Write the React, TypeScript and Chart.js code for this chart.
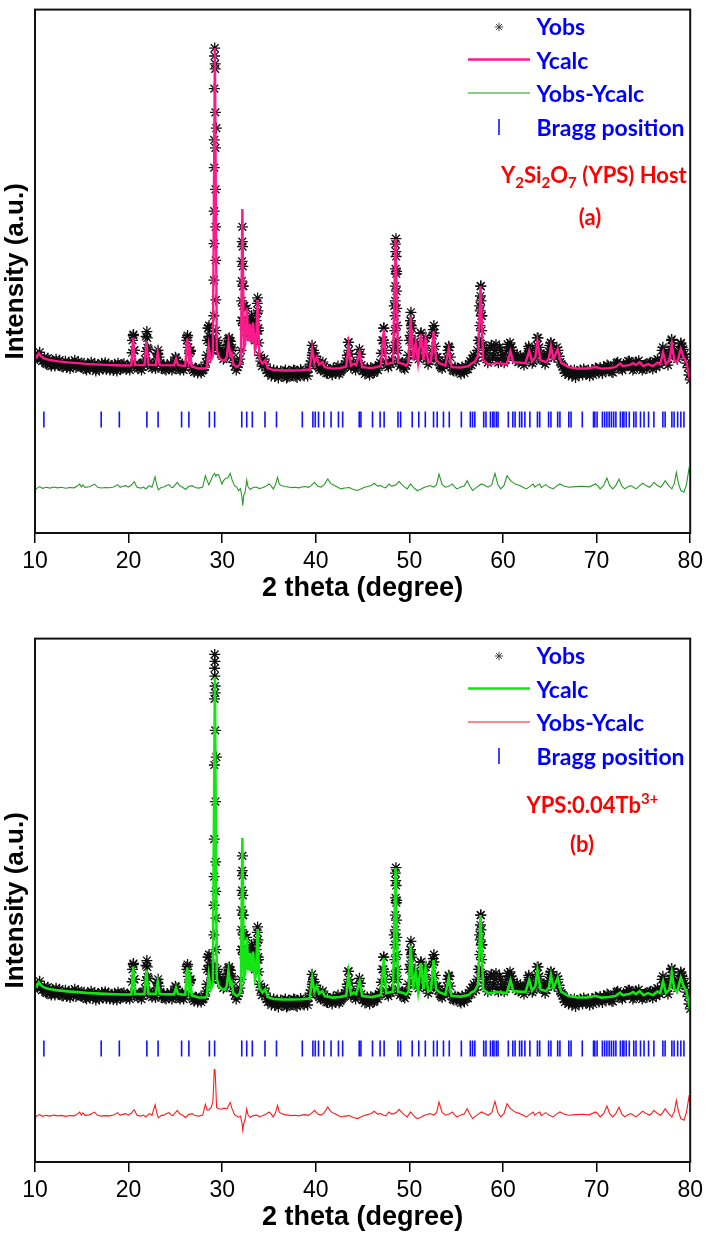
import React, { useEffect, useRef } from 'react';
import { Chart, registerables } from 'chart.js';

Chart.register(...registerables);

// ---------------- data (2θ in degrees, intensity in a.u.) ----------------
const X_TICKS = [10, 20, 30, 40, 50, 60, 70, 80];
const Y_RANGE = [0, 10600];
const BRAGG_LEVEL = 2300;

// observed pattern sampled every 0.25° from 10° to 80°
const OBS_START = 10;
const OBS_STEP = 0.25;
const obsBackground = [
  // 10.00 - 14.75
  3620, 3540, 3660, 3480, 3560, 3420, 3500, 3380, 3470, 3520, 3400, 3440, 3360, 3480, 3410, 3330, 3450, 3500, 3380, 3420,
  // 15.00 - 19.75
  3360, 3440, 3300, 3400, 3460, 3340, 3280, 3410, 3370, 3320, 3450, 3380, 3300, 3350, 3420, 3280, 3390, 3340, 3430, 3310,
  // 20.00 - 24.75
  3350, 3420, 4000, 3430, 3330, 3400, 3360, 3520, 3950, 3460, 3340, 3390, 3520, 3560, 3330, 3400, 3300, 3380, 3420, 3340,
  // 25.00 - 29.75
  3560, 3380, 3300, 3420, 3360, 3960, 3640, 3350, 3260, 3330, 3280, 3240, 3310, 3460, 4150, 3800, 3950, 9500, 3900, 3700,
  // 30.00 - 34.75
  3650, 3550, 3750, 3950, 3700, 3450, 3300, 3420, 3700, 5000, 4200, 4300, 4300, 4200, 3900, 4650, 3600, 3380, 3520, 3300,
  // 35.00 - 39.75
  3260, 3180, 3300, 3220, 3140, 3280, 3200, 3300, 3160, 3240, 3190, 3290, 3150, 3230, 3270, 3180, 3250, 3330, 3480, 3700,
  // 40.00 - 44.75
  3580, 3380, 3300, 3460, 3280, 3230, 3310, 3200, 3290, 3340, 3220, 3300, 3360, 3480, 3860, 3350, 3440, 3300, 3450, 3620,
  // 45.00 - 49.75
  3280, 3220, 3340, 3200, 3300, 3250, 3330, 3400, 3640, 4150, 3460, 3360, 3420, 3700, 5850, 3700, 3380, 3440, 3320, 3450,
  // 50.00 - 54.75
  3900, 4150, 3600, 3800, 3520, 4050, 3560, 3950, 3420, 3520, 4000, 3780, 3560, 3400, 3330, 3420, 3560, 3760, 3360, 3280,
  // 55.00 - 59.75
  3280, 3330, 3220, 3300, 3380, 3320, 3480, 3520, 3560, 3700, 4600, 4400, 3560, 3700, 3500, 3800, 3600, 3820, 3450, 3700,
  // 60.00 - 64.75
  3600, 3500, 3820, 3850, 3700, 3560, 3620, 3480, 3520, 3400, 3580, 3780, 3560, 3480, 3700, 3950, 3640, 3500, 3420, 3600,
  // 65.00 - 69.75
  3800, 3720, 3560, 3760, 3580, 3420, 3300, 3260, 3200, 3280, 3220, 3150, 3240, 3300, 3200, 3280, 3230, 3180, 3300, 3260,
  // 70.00 - 74.75
  3330, 3240, 3300, 3360, 3280, 3380, 3320, 3250, 3390, 3460, 3380, 3300, 3360, 3420, 3480, 3380, 3330, 3460, 3490, 3350,
  // 75.00 - 79.75
  3340, 3420, 3380, 3460, 3320, 3480, 3520, 3400, 3700, 3650, 3460, 3620, 3900, 3700, 3580, 3640, 3850, 3720, 3560, 3350,
  // 80.00
  3100,
];

// observed points read between the 0.25° samples (offset by 0.125°)
const OBS_MID_START = 10.125;
const obsBetween = [
  // 10.125 - 14.875
  3560, 3600, 3520, 3500, 3440, 3540, 3410, 3460, 3380, 3430, 3500, 3370, 3420, 3350, 3460, 3390, 3400, 3350, 3470, 3360,
  // 15.125 - 19.875
  3420, 3330, 3380, 3320, 3400, 3430, 3350, 3300, 3440, 3390, 3310, 3420, 3360, 3290, 3380, 3440, 3320, 3400, 3360, 3380,
  // 20.125 - 24.875
  3300, 3650, 3700, 3360, 3410, 3300, 3440, 3680, 3720, 3380, 3420, 3330, 3620, 3440, 3380, 3320, 3410, 3350, 3300, 3450,
  // 25.125 - 29.875
  3480, 3330, 3400, 3300, 3420, 3760, 3700, 3300, 3340, 3240, 3320, 3290, 3360, 3600, 3980, 3700, 3750, 8200, 3700, 3620,
  // 30.125 - 34.875
  3520, 3640, 3820, 3880, 3540, 3380, 3360, 3520, 4300, 4600, 4100, 4150, 4400, 3950, 4300, 4100, 3480, 3450, 3420, 3240,
  // 35.125 - 39.875
  3300, 3240, 3170, 3280, 3220, 3180, 3260, 3140, 3280, 3200, 3300, 3170, 3240, 3310, 3200, 3260, 3180, 3420, 3600, 3500,
  // 40.125 - 44.875
  3480, 3340, 3420, 3360, 3240, 3310, 3260, 3340, 3230, 3380, 3260, 3330, 3420, 3600, 3620, 3400, 3360, 3420, 3560, 3400,
  // 45.125 - 49.875
  3320, 3260, 3280, 3350, 3240, 3360, 3300, 3450, 3900, 3700, 3400, 3460, 3500, 4600, 5300, 3480, 3420, 3350, 3400, 3600,
  // 50.125 - 54.875
  4300, 3800, 3700, 3600, 3800, 3700, 3800, 3600, 3480, 3700, 4050, 3560, 3480, 3360, 3400, 3460, 3700, 3560, 3300, 3360,
  // 55.125 - 59.875
  3340, 3260, 3360, 3240, 3320, 3420, 3400, 3600, 3480, 3900, 5000, 3800, 3640, 3450, 3760, 3560, 3700, 3500, 3760, 3560,
  // 60.125 - 64.875
  3450, 3700, 3600, 3760, 3600, 3500, 3460, 3580, 3460, 3560, 3620, 3700, 3440, 3620, 3800, 3760, 3520, 3600, 3480, 3680,
  // 65.125 - 69.875
  3850, 3620, 3650, 3700, 3460, 3380, 3240, 3320, 3250, 3180, 3300, 3240, 3200, 3280, 3320, 3220, 3300, 3250, 3200, 3340,
  // 70.125 - 74.875
  3280, 3350, 3230, 3320, 3400, 3300, 3260, 3360, 3440, 3400, 3330, 3420, 3380, 3480, 3400, 3300, 3440, 3400, 3380, 3300,
  // 75.125 - 79.875
  3400, 3330, 3440, 3380, 3400, 3360, 3440, 3500, 3560, 3550, 3400, 3720, 3780, 3600, 3520, 3700, 3760, 3620, 3440, 3200,
];

// extra observed points on the flanks and tops of the reflections
const obsPeakPoints: [number, number][] = [
  [20.42, 3900], [20.52, 4020], [20.6, 3700],
  [21.86, 3980], [21.95, 4080], [22.02, 3750],
  [23.08, 3640], [23.15, 3700], [25.05, 3540],
  [26.22, 3900], [26.3, 4000], [26.6, 3680],
  [28.4, 3900], [28.5, 4150], [28.6, 4200], [28.68, 3980], [28.85, 3850],
  [29.6, 3800], [29.85, 3650], [30.1, 3600], [30.55, 3800], [30.65, 3930], [30.75, 3900], [30.9, 3700], [31.05, 3750],
  [32.06, 4300], [32.08, 4700], [32.1, 5100], [32.12, 5500], [32.14, 5900], [32.16, 6200], [32.18, 5800],
  [32.2, 5400], [32.22, 5000], [32.25, 4600], [32.28, 4200],
  [32.58, 4200], [32.62, 4550], [32.66, 4300], [32.7, 4000],
  [32.93, 4050], [32.98, 4250], [33.02, 4000],
  [33.26, 4100], [33.3, 4300], [33.35, 4000],
  [33.7, 4100], [33.74, 4450], [33.78, 4760], [33.82, 4500], [33.86, 4150], [33.9, 3850],
  [39.6, 3800], [39.68, 3650], [43.47, 3860], [43.55, 3700], [44.66, 3720],
  [47.22, 3900], [47.27, 4150], [47.32, 3850],
  [48.42, 3800], [48.44, 4100], [48.46, 4400], [48.48, 4700], [48.5, 5000], [48.52, 5350], [48.54, 5700],
  [48.56, 5960], [48.58, 5600], [48.6, 5250], [48.62, 4900], [48.64, 4550], [48.66, 4200], [48.7, 3900],
  [50.08, 4000], [50.12, 4300], [50.16, 4470], [50.2, 4200], [50.24, 3900],
  [50.65, 3880], [51.22, 4050], [51.7, 3950], [52.55, 4120], [52.62, 4200], [54.18, 3780],
  [57.5, 3900], [57.53, 4200], [57.56, 4500], [57.59, 4800], [57.62, 5000], [57.65, 4700], [57.68, 4400],
  [57.71, 4100], [57.75, 3800],
  [60.78, 3760], [62.78, 3740], [63.66, 3950], [65.1, 3850], [77.08, 3760], [78.02, 3920], [79.0, 3830],
];

// observed points along the strongest reflection (~29.2°)
const obsMainPeakA: [number, number][] = [
  [29.2, 9820], [29.18, 9660], [29.25, 9400], [29.16, 9000], [29.27, 8520], [29.15, 7960], [29.28, 7800],
  [29.15, 7400], [29.29, 6960], [29.14, 6520], [29.3, 6200], [29.13, 5860], [29.31, 5520], [29.12, 5120],
  [29.32, 4720], [29.11, 4400], [29.33, 4100], [29.1, 3800],
];
const obsMainPeakB: [number, number][] = [
  [29.2, 10280], [29.22, 10140], [29.19, 10000], [29.21, 9840], [29.24, 9640], [29.18, 9380], [29.26, 8740],
  [29.16, 8040], [29.28, 7300], [29.15, 6540], [29.3, 6080], [29.14, 5780], [29.31, 5480], [29.13, 5200],
  [29.32, 4940], [29.12, 4600], [29.33, 4300], [29.1, 4000],
];

// calculated profile
const calcProfile: [number, number][] = [
  [10.0, 3610], [10.2, 3560], [10.4, 3640], [10.6, 3590], [10.9, 3540], [11.5, 3505], [12.5, 3475], [13.5, 3455],
  [14.5, 3440], [15.5, 3425], [16.5, 3415], [17.5, 3405], [18.5, 3398], [19.5, 3392], [20.3, 3395],
  [20.48, 3960], [20.68, 3405], [21.7, 3400], [21.91, 3890], [22.12, 3410], [22.9, 3400], [23.11, 3660],
  [23.32, 3400], [24.85, 3395], [25.07, 3530], [25.28, 3400], [26.05, 3385],
  [26.27, 3940], [26.42, 3520], [26.55, 3700], [26.75, 3370], [27.5, 3330], [28.2, 3330], [28.36, 3360],
  [28.56, 3790], [28.78, 3500], [29.0, 3580],
  [29.22, 9820], [29.42, 3720], [29.6, 3580], [29.9, 3510], [30.25, 3490], [30.48, 3560], [30.67, 3870],
  [30.86, 3600], [31.0, 3640], [31.2, 3420], [31.55, 3360], [31.85, 3400], [32.0, 3520],
  [32.15, 6560], [32.32, 3720], [32.45, 3820], [32.63, 4560], [32.8, 3880], [32.97, 4230], [33.13, 3850],
  [33.3, 4260], [33.5, 3700], [33.6, 3760], [33.78, 4720], [33.98, 3520], [34.3, 3430], [34.6, 3500],
  [34.85, 3340], [35.5, 3300], [36.5, 3290], [37.5, 3290], [38.5, 3295], [39.35, 3310],
  [39.62, 3730], [39.85, 3450], [40.1, 3560], [40.35, 3410], [40.7, 3460], [40.95, 3360], [41.8, 3330],
  [42.6, 3340], [43.25, 3370], [43.5, 3810], [43.75, 3390], [44.07, 3430], [44.3, 3400], [44.69, 3660],
  [44.95, 3360], [46.0, 3340], [46.95, 3380],
  [47.27, 4130], [47.52, 3420], [48.25, 3450], [48.52, 5960], [48.8, 3450], [49.33, 3425], [49.65, 3390],
  [49.92, 3460], [50.14, 4390], [50.4, 3500], [50.67, 3860], [50.92, 3460], [51.24, 4030], [51.5, 3500],
  [51.72, 3930], [52.0, 3450], [52.3, 3480], [52.58, 4090], [52.85, 3500], [53.2, 3440], [53.85, 3390],
  [54.2, 3730], [54.5, 3360], [55.5, 3350], [56.3, 3380], [56.6, 3430], [57.0, 3470], [57.35, 3600],
  [57.6, 5000], [57.88, 3500], [58.4, 3420], [58.9, 3425], [59.2, 3445], [59.9, 3430], [60.4, 3420],
  [60.8, 3680], [61.1, 3460], [61.77, 3450], [62.4, 3440], [62.8, 3690], [63.1, 3470], [63.45, 3560],
  [63.68, 3890], [64.0, 3500], [64.6, 3460], [64.9, 3540], [65.12, 3790], [65.4, 3520], [65.84, 3730],
  [66.2, 3450], [67.0, 3360], [68.0, 3330], [69.0, 3330], [69.9, 3360], [70.5, 3330], [71.3, 3340],
  [72.0, 3360], [72.5, 3430], [72.8, 3380], [73.5, 3400], [73.9, 3440], [74.2, 3400], [74.6, 3460],
  [75.0, 3380], [75.5, 3420], [76.0, 3380], [76.5, 3450], [76.8, 3420], [77.1, 3660], [77.4, 3420],
  [77.8, 3500], [78.04, 3830], [78.3, 3500], [78.6, 3450], [79.0, 3730], [79.3, 3560], [79.6, 3460],
  [80.0, 3060],
];

// difference curves (offset below the patterns)
const diffA: [number, number][] = [
  [10.0, 850], [10.15, 900], [10.5, 940], [10.8, 905], [11.2, 925], [11.6, 910], [12.0, 930], [12.4, 915],
  [12.8, 925], [13.3, 905], [13.7, 920], [14.2, 915], [14.5, 950], [14.77, 990], [14.95, 930], [15.12, 975],
  [15.35, 925], [15.8, 935], [16.36, 990], [16.7, 925], [17.07, 910], [17.5, 920], [17.95, 915], [18.4, 930],
  [18.84, 980], [19.1, 925], [19.37, 945], [19.72, 960], [19.95, 930], [20.25, 960], [20.6, 1040], [20.9, 925],
  [21.31, 910], [21.6, 930], [21.84, 893], [22.2, 960], [22.5, 930], [22.83, 1140], [23.0, 980], [23.18, 873],
  [23.5, 925], [23.79, 930], [24.0, 955], [24.32, 980], [24.55, 930], [24.74, 920], [25.2, 1027], [25.5, 950],
  [25.73, 930], [26.09, 880], [26.4, 940], [26.79, 960], [27.1, 920], [27.5, 910], [27.92, 930], [28.2, 1160],
  [28.35, 1080], [28.56, 980], [28.75, 1050], [28.91, 1120], [29.05, 1180], [29.19, 1207], [29.32, 1150],
  [29.44, 1185], [29.62, 1180], [29.8, 1080], [29.97, 990], [30.15, 1060], [30.33, 1100], [30.6, 1120],
  [30.86, 1207], [31.05, 1080], [31.32, 960], [31.55, 930], [31.74, 860], [31.95, 900], [32.1, 740],
  [32.2, 560], [32.3, 760], [32.45, 827], [32.62, 1073], [32.75, 940], [32.98, 880], [33.3, 920], [33.68, 930],
  [33.95, 900], [34.21, 913], [34.6, 940], [35.0, 993], [35.2, 960], [35.45, 893], [35.7, 980], [35.91, 1127],
  [36.1, 990], [36.33, 960], [36.7, 940], [37.04, 930], [37.4, 920], [37.75, 927], [38.2, 915], [38.5, 930],
  [38.81, 940], [39.2, 925], [39.5, 960], [39.87, 1027], [40.2, 950], [40.57, 930], [40.9, 980], [41.28, 1093],
  [41.6, 1000], [41.99, 960], [42.3, 930], [42.69, 893], [43.1, 910], [43.58, 920], [44.0, 880], [44.46, 860],
  [44.81, 893], [45.15, 920], [45.52, 940], [45.9, 960], [46.24, 1007], [46.6, 950], [46.94, 960], [47.2, 930],
  [47.47, 913], [47.82, 993], [48.1, 950], [48.36, 960], [48.6, 980], [48.89, 1047], [49.2, 980], [49.5, 930],
  [49.77, 893], [50.12, 993], [50.45, 920], [50.83, 860], [51.2, 880], [51.54, 920], [51.9, 940], [52.2, 960],
  [52.6, 930], [52.9, 980], [53.16, 1193], [53.5, 980], [53.88, 927], [54.25, 950], [54.59, 993], [54.8, 940],
  [55.07, 893], [55.5, 930], [55.85, 950], [56.17, 1060], [56.45, 950], [56.75, 860], [57.2, 930], [57.7, 993],
  [58.05, 960], [58.42, 927], [58.8, 980], [59.14, 1207], [59.45, 980], [59.76, 893], [60.1, 960], [60.43, 1160],
  [60.81, 1060], [61.3, 990], [61.77, 960], [62.1, 930], [62.49, 893], [62.85, 940], [63.21, 993], [63.4, 930],
  [63.59, 960], [63.92, 993], [64.1, 920], [64.26, 940], [64.55, 980], [64.9, 930], [65.36, 893], [65.7, 950],
  [66.08, 993], [66.5, 950], [67.03, 927], [67.7, 940], [68.47, 947], [69.2, 935], [69.9, 993], [70.15, 950],
  [70.38, 893], [70.75, 960], [71.1, 1113], [71.4, 960], [71.72, 893], [72.05, 960], [72.39, 1093], [72.7, 950],
  [73.01, 893], [73.3, 930], [73.64, 960], [73.9, 930], [74.21, 893], [74.55, 950], [74.93, 1007], [75.3, 960],
  [75.65, 927], [75.9, 970], [76.12, 1027], [76.5, 960], [76.84, 927], [77.1, 990], [77.32, 1060], [77.7, 960],
  [78.04, 893], [78.3, 1000], [78.52, 1227], [78.75, 1000], [79.0, 860], [79.33, 827], [79.6, 980],
  [79.86, 1293], [80.0, 1200],
];

const diffB: [number, number][] = [
  [10.0, 870], [10.15, 930], [10.5, 960], [10.8, 925], [11.2, 945], [11.6, 930], [12.0, 950], [12.4, 935],
  [12.8, 945], [13.3, 925], [13.7, 940], [14.2, 935], [14.5, 970], [14.77, 1010], [14.95, 950], [15.12, 995],
  [15.35, 945], [15.8, 955], [16.36, 1010], [16.7, 945], [17.07, 930], [17.5, 940], [17.95, 935], [18.4, 950],
  [18.84, 1000], [19.1, 945], [19.37, 965], [19.72, 980], [19.95, 950], [20.25, 980], [20.6, 1060], [20.9, 945],
  [21.31, 930], [21.6, 950], [21.84, 913], [22.2, 980], [22.5, 950], [22.83, 1160], [23.0, 1000], [23.18, 893],
  [23.5, 945], [23.79, 950], [24.0, 975], [24.32, 1000], [24.55, 950], [24.74, 940], [25.2, 1047], [25.5, 970],
  [25.73, 950], [26.09, 900], [26.4, 960], [26.79, 980], [27.1, 940], [27.5, 930], [27.92, 950], [28.2, 1170],
  [28.4, 1050], [28.56, 1053], [28.8, 1100], [29.0, 1200], [29.1, 1600], [29.15, 1873], [29.22, 1880],
  [29.28, 1700], [29.4, 1107], [29.6, 1080], [29.9, 1070], [30.2, 1090], [30.5, 1075], [30.86, 1207],
  [31.05, 1080], [31.32, 960], [31.74, 907], [31.95, 930], [32.1, 800], [32.2, 640], [32.3, 780], [32.45, 860],
  [32.62, 1073], [32.75, 960], [32.98, 900], [33.3, 940], [33.68, 950], [33.95, 920], [34.21, 933], [34.6, 960],
  [35.0, 1013], [35.2, 980], [35.45, 913], [35.7, 1000], [35.91, 1147], [36.1, 1010], [36.33, 980], [36.7, 960],
  [37.04, 950], [37.4, 940], [37.75, 947], [38.2, 935], [38.5, 950], [38.81, 960], [39.2, 945], [39.5, 980],
  [39.87, 1047], [40.2, 970], [40.57, 950], [40.9, 1000], [41.28, 1113], [41.6, 1020], [41.99, 980], [42.3, 950],
  [42.69, 913], [43.1, 930], [43.58, 940], [44.0, 900], [44.46, 880], [44.81, 913], [45.15, 940], [45.52, 960],
  [45.9, 980], [46.24, 1027], [46.6, 970], [46.94, 980], [47.2, 950], [47.47, 933], [47.82, 1013], [48.1, 970],
  [48.36, 980], [48.6, 1000], [48.89, 1067], [49.2, 1000], [49.5, 950], [49.77, 913], [50.12, 1013], [50.45, 940],
  [50.83, 880], [51.2, 900], [51.54, 940], [51.9, 960], [52.2, 980], [52.6, 950], [52.9, 1000], [53.16, 1213],
  [53.5, 1000], [53.88, 947], [54.25, 970], [54.59, 1013], [54.8, 960], [55.07, 913], [55.5, 950], [55.85, 970],
  [56.17, 1080], [56.45, 970], [56.75, 880], [57.2, 950], [57.7, 1013], [58.05, 980], [58.42, 947], [58.8, 1000],
  [59.14, 1227], [59.45, 1000], [59.76, 913], [60.1, 980], [60.43, 1180], [60.81, 1080], [61.3, 1010],
  [61.77, 980], [62.1, 950], [62.49, 913], [62.85, 960], [63.21, 1013], [63.4, 950], [63.59, 980], [63.92, 1013],
  [64.1, 940], [64.26, 960], [64.55, 1000], [64.9, 950], [65.36, 913], [65.7, 970], [66.08, 1013], [66.5, 970],
  [67.03, 947], [67.7, 960], [68.47, 967], [69.2, 955], [69.9, 1013], [70.15, 970], [70.38, 913], [70.75, 980],
  [71.1, 1133], [71.4, 980], [71.72, 913], [72.05, 980], [72.39, 1113], [72.7, 970], [73.01, 913], [73.3, 950],
  [73.64, 980], [73.9, 950], [74.21, 913], [74.55, 970], [74.93, 1027], [75.3, 980], [75.65, 947], [75.9, 990],
  [76.12, 1047], [76.5, 980], [76.84, 947], [77.1, 1010], [77.32, 1080], [77.7, 980], [78.04, 913], [78.3, 1020],
  [78.52, 1247], [78.75, 1020], [79.0, 880], [79.33, 847], [79.6, 1000], [79.86, 1313], [80.0, 1220],
];

// Bragg reflection positions (2θ)
const braggPositions = [
  10.95, 17.07, 19.01, 21.95, 23.15, 25.66, 26.44, 28.63, 29.19, 32.09, 32.62, 33.22, 34.57, 35.8, 38.56,
  39.69, 39.94, 40.29, 40.86, 41.63, 42.42, 42.87, 44.64, 44.82, 46.06, 46.87, 47.3, 48.78, 49.06, 50.3,
  51.0, 51.7, 52.58, 52.97, 53.64, 54.26, 55.55, 56.51, 56.75, 56.99, 57.94, 58.18, 58.66, 58.9, 59.04,
  59.28, 59.47, 60.57, 61.05, 61.29, 61.77, 62.01, 62.34, 62.87, 63.68, 63.92, 64.87, 65.12, 65.84, 66.08,
  67.03, 67.27, 68.47, 69.67, 69.81, 70.05, 70.62, 70.86, 71.1, 71.34, 71.58, 71.82, 72.06, 72.54, 72.78,
  72.92, 73.16, 73.49, 73.97, 74.21, 74.69, 75.07, 75.55, 76.12, 77.08, 77.32, 78.04, 78.28, 78.66, 79.0,
  79.33,
];

const legendLabels = ['Yobs', 'Ycalc', 'Yobs-Ycalc', 'Bragg position'];

// ---------------- styling ----------------
const W = 708;
const H = 605;
const TICK_FONT = "'Liberation Sans Narrow', 'Liberation Sans', Arial, sans-serif";
const TITLE_FONT = "'Liberation Sans', Arial, sans-serif";
const LEGEND_FONT = "Lato, 'Open Sans', sans-serif";

type PanelSpec = {
  calcColor: string;
  calcWidth: number;
  diffColor: string;
  diff: [number, number][];
  mainPeak: [number, number][];
};

const framePlugin = {
  id: 'frame',
  afterDraw(chart: any) {
    const { ctx, chartArea: a } = chart;
    ctx.save();
    ctx.strokeStyle = '#111';
    ctx.lineWidth = 2;
    ctx.strokeRect(a.left, a.top, a.right - a.left, a.bottom - a.top);
    ctx.restore();
  },
};

function toXY(arr: [number, number][]) {
  return arr.map(([x, y]) => ({ x, y }));
}

function buildConfig(p: PanelSpec): any {
  const obs = [
    ...obsBackground.map((v, i) => ({ x: OBS_START + i * OBS_STEP, y: v })),
    ...obsBetween.map((v, i) => ({ x: OBS_MID_START + i * OBS_STEP, y: v })),
    ...toXY(obsPeakPoints),
    ...toXY(p.mainPeak),
  ];
  return {
    type: 'line',
    data: {
      datasets: [
        {
          label: 'Ycalc',
          data: toXY(calcProfile),
          borderColor: p.calcColor,
          borderWidth: p.calcWidth,
          pointRadius: 0,
          tension: 0,
          fill: false,
        },
        {
          label: 'Yobs-Ycalc',
          data: toXY(p.diff),
          borderColor: p.diffColor,
          borderWidth: 1.1,
          pointRadius: 0,
          tension: 0,
          fill: false,
        },
        {
          label: 'Bragg position',
          data: braggPositions.map((x) => ({ x, y: BRAGG_LEVEL })),
          showLine: false,
          pointStyle: 'line',
          pointRotation: 90,
          pointRadius: 8,
          pointBorderWidth: 1.6,
          pointBorderColor: '#1212ff',
          borderColor: '#1212ff',
        },
        {
          label: 'Yobs',
          data: obs,
          showLine: false,
          pointStyle: 'star',
          pointRadius: 5.5,
          pointBorderWidth: 1.3,
          pointBorderColor: '#0d0d0d',
          pointBackgroundColor: 'rgba(0,0,0,0)',
          borderColor: '#0d0d0d',
        },
      ],
    },
    options: {
      animation: false,
      responsive: false,
      events: [],
      layout: { padding: { top: 3, right: 13, bottom: 0, left: 0 } },
      plugins: { legend: { display: false }, tooltip: { enabled: false } },
      scales: {
        x: {
          type: 'linear',
          min: X_TICKS[0],
          max: X_TICKS[X_TICKS.length - 1],
          afterBuildTicks: (s: any) => {
            s.ticks = X_TICKS.map((v) => ({ value: v }));
          },
          afterFit: (s: any) => {
            s.height = 72;
          },
          ticks: {
            color: '#000',
            font: { family: TICK_FONT, size: 23 },
            padding: 5,
            maxRotation: 0,
            autoSkip: false,
          },
          grid: {
            display: true,
            drawOnChartArea: false,
            drawTicks: true,
            tickLength: 10,
            color: '#000',
            lineWidth: 1.5,
          },
          border: { display: true, color: '#000', width: 2 },
          title: {
            display: true,
            text: '2 theta (degree)',
            color: '#000',
            font: { family: TITLE_FONT, size: 27, weight: 'bold' },
            padding: { top: 0, bottom: 0 },
          },
        },
        y: {
          type: 'linear',
          min: Y_RANGE[0],
          max: Y_RANGE[1],
          afterFit: (s: any) => {
            s.width = 35;
          },
          ticks: { display: false },
          grid: { display: false },
          border: { display: false },
          title: {
            display: true,
            text: 'Intensity (a.u.)',
            color: '#000',
            font: { family: TITLE_FONT, size: 26, weight: 'bold' },
            padding: { top: 0, bottom: 0 },
          },
        },
      },
    },
    plugins: [framePlugin],
  };
}

function Legend({ calcColor, diffColor }: { calcColor: string; diffColor: string }) {
  const textX = 536.5;
  const base = [35, 68.5, 102, 135.5];
  return (
    <g>
      <g stroke="#333" strokeWidth={0.9}>
        <line x1={494.8} y1={27} x2={503.2} y2={27} />
        <line x1={499} y1={22.8} x2={499} y2={31.2} />
        <line x1={496} y1={24} x2={502} y2={30} />
        <line x1={502} y1={24} x2={496} y2={30} />
      </g>
      <line x1={468} y1={59.5} x2={530} y2={59.5} stroke={calcColor} strokeWidth={2.5} />
      <line x1={468} y1={93} x2={530} y2={93} stroke={diffColor} strokeWidth={1.5} opacity={0.7} />
      <line x1={499} y1={119} x2={499} y2={135} stroke="#1212ff" strokeWidth={1.6} />
      {legendLabels.map((t, i) => (
        <text key={t} x={textX} y={base[i]} fill="#0000ff" fontFamily={LEGEND_FONT} fontWeight={700} fontSize={23}>
          {t}
        </text>
      ))}
    </g>
  );
}

function Panel({ top, spec, children }: { top: number; spec: PanelSpec; children: React.ReactNode }) {
  const ref = useRef<HTMLCanvasElement>(null);
  useEffect(() => {
    const chart = new Chart(ref.current as HTMLCanvasElement, buildConfig(spec));
    return () => chart.destroy();
  }, []);
  return (
    <div style={{ position: 'absolute', left: 0, top, width: W, height: H }}>
      <canvas ref={ref} width={W} height={H} style={{ position: 'absolute', left: 0, top: 0, width: W, height: H }} />
      <svg width={W} height={H} style={{ position: 'absolute', left: 0, top: 0 }}>
        <Legend calcColor={spec.calcColor} diffColor={spec.diffColor} />
        {children}
      </svg>
    </div>
  );
}

const specA: PanelSpec = {
  calcColor: '#ff1a8c',
  calcWidth: 2.4,
  diffColor: '#2a982a',
  diff: diffA,
  mainPeak: obsMainPeakA,
};
const specB: PanelSpec = {
  calcColor: '#14e614',
  calcWidth: 2.6,
  diffColor: '#ff1a1a',
  diff: diffB,
  mainPeak: obsMainPeakB,
};

export default function App() {
  const red = { fill: '#ff0000', fontFamily: LEGEND_FONT, fontWeight: 700, fontSize: 22 } as const;
  return (
    <div style={{ position: 'absolute', left: 0, top: 0, width: W, height: 1234, background: '#fff' }}>
      <Panel top={0} spec={specA}>
        <text x={501} y={183.3} {...red}>
          Y<tspan dy={5} fontSize={15}>2</tspan>
          <tspan dy={-5}>Si</tspan>
          <tspan dy={5} fontSize={15}>2</tspan>
          <tspan dy={-5}>O</tspan>
          <tspan dy={5} fontSize={15}>7</tspan>
          <tspan dy={-5}> (YPS) Host</tspan>
        </text>
        <text x={590} y={225} textAnchor="middle" {...red}>
          (a)
        </text>
      </Panel>
      <Panel top={629} spec={specB}>
        <text x={526.5} y={184.3} {...red}>
          YPS:0.04Tb<tspan dy={-9} fontSize={15}>3+</tspan>
        </text>
        <text x={582} y={222.7} textAnchor="middle" {...red}>
          (b)
        </text>
      </Panel>
    </div>
  );
}
